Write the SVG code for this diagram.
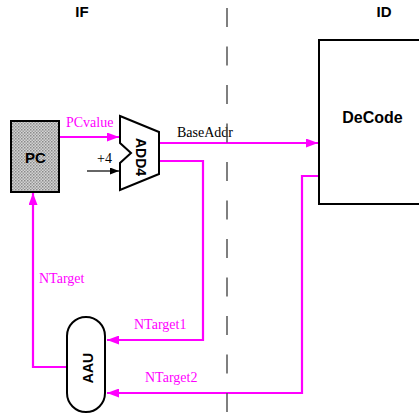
<svg xmlns="http://www.w3.org/2000/svg" width="419" height="416" viewBox="0 0 419 416">
<style>
.blk{fill:none;stroke:#000;stroke-width:2}
.mg{fill:none;stroke:#ff00ff;stroke-width:2.2}
.bold{font-family:"Liberation Sans",Arial,sans-serif;font-weight:bold;fill:#000}
.lbl{font-family:"Liberation Serif","Times New Roman",serif;font-size:14px}
</style>
<defs>
<pattern id="dots" width="3" height="3" patternUnits="userSpaceOnUse">
<rect width="3" height="3" fill="#d4d4d4"/>
<rect x="0" y="0" width="1.5" height="1.5" fill="#8a8a8a"/>
<rect x="1.5" y="1.5" width="1.5" height="1.5" fill="#a0a0a0"/>
</pattern>
<marker id="am" markerUnits="userSpaceOnUse" markerWidth="12" markerHeight="9" refX="12" refY="4.5" orient="auto">
<path d="M0,0 L12,4.5 L0,9 z" fill="#ff00ff"/>
</marker>
<marker id="ab" markerUnits="userSpaceOnUse" markerWidth="9" markerHeight="7" refX="9" refY="3.5" orient="auto">
<path d="M0,0 L9,3.5 L0,7 z" fill="#000"/>
</marker>
</defs>
<rect width="419" height="416" fill="#fff"/>
<text class="bold" x="82" y="17" font-size="15" text-anchor="middle">IF</text>
<text class="bold" x="384" y="17" font-size="15" text-anchor="middle">ID</text>
<g id="connectors">
<line class="mg" x1="59" y1="137" x2="119" y2="137" marker-end="url(#am)"/>
<text class="lbl" x="66" y="127" fill="#ff00ff">PCvalue</text>
<line x1="87" y1="171" x2="119" y2="171" stroke="#000" stroke-width="1.2" marker-end="url(#ab)"/>
<text class="lbl" x="97" y="163" fill="#000">+4</text>
<line class="mg" x1="158" y1="143" x2="318" y2="143" marker-end="url(#am)"/>
<text class="lbl" x="177" y="137" fill="#000">BaseAddr</text>
<polyline class="mg" points="158,161 203,161 203,340 107,340" marker-end="url(#am)"/>
<text class="lbl" x="134" y="329" fill="#ff00ff">NTarget1</text>
<polyline class="mg" points="318,176 302,176 302,393 107,393" marker-end="url(#am)"/>
<text class="lbl" x="145" y="382" fill="#ff00ff">NTarget2</text>
<polyline class="mg" points="67,367 33,367 33,193" marker-end="url(#am)"/>
<text class="lbl" x="39" y="283" fill="#ff00ff">NTarget</text>
</g>
<g id="PC">
<rect x="11" y="121" width="48" height="71" fill="url(#dots)" stroke="#000" stroke-width="2"/>
<text class="bold" x="35.5" y="163" font-size="15" text-anchor="middle">PC</text>
</g>
<g id="ADD4">
<path class="blk" fill="#fff" d="M120,116 L159,132 L159,174 L120,190 L120,163 L131,153 L120,143 Z" style="fill:#fff"/>
<text class="bold" font-size="14" text-anchor="middle" transform="translate(136,157) rotate(90)">ADD4</text>
</g>
<g id="AAU">
<rect x="67" y="317" width="38" height="95" rx="19" ry="19" fill="#fff" stroke="#000" stroke-width="2"/>
<text class="bold" font-size="14" text-anchor="middle" transform="translate(93,368) rotate(-90)">AAU</text>
</g>
<g id="DeCode">
<rect x="319" y="40" width="120" height="164" fill="#fff" stroke="#000" stroke-width="2"/>
<text class="bold" x="372.5" y="123" font-size="16" text-anchor="middle">DeCode</text>
</g>
<line x1="227" y1="8" x2="227" y2="412" stroke="#555" stroke-width="1.5" stroke-dasharray="19 19.5"/>
</svg>
